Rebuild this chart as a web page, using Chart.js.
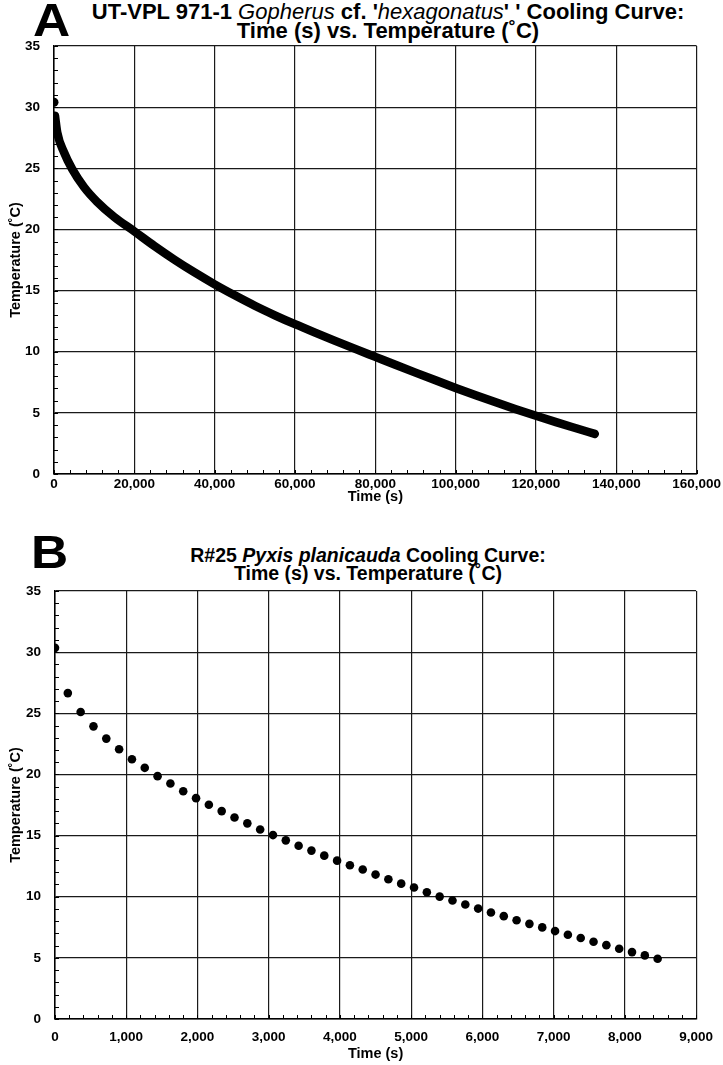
<!DOCTYPE html>
<html>
<head>
<meta charset="utf-8">
<script src="https://cdn.jsdelivr.net/npm/chart.js@4.4.1/dist/chart.umd.min.js"></script>
<style>
  html, body { margin:0; padding:0; background:#fff; }
  body { width:723px; height:1065px; position:relative; overflow:hidden; font-family:"Liberation Sans", Arial, sans-serif; color:#000; }
  .cv { position:absolute; left:0; }
  .ttl { position:absolute; white-space:nowrap; transform:translateX(-50%); font-weight:bold; }
  .ttl i.n { font-weight:normal; }
  .big { position:absolute; font-weight:bold; font-size:46px; line-height:46px; transform-origin:left top; transform:scaleX(1.12); }
</style>
</head>
<body>
<div class="big" style="left:33px; top:-3px;">A</div>
<div class="ttl" style="left:388px; top:1px; font-size:22px; line-height:21px;">UT-VPL 971-1 <i class="n">Gopherus</i> cf. '<i class="n">hexagonatus</i>' ' Cooling Curve:</div>
<div class="ttl" style="left:388px; top:20px; font-size:22px; line-height:21px;">Time (s) vs. Temperature (˚C)</div>
<canvas id="cA" class="cv" style="top:0px;" width="723" height="510"></canvas>

<div class="big" style="left:31px; top:529px;">B</div>
<div class="ttl" style="left:368px; top:545px; font-size:19.5px; line-height:20px;">R#25 <i>Pyxis planicauda</i> Cooling Curve:</div>
<div class="ttl" style="left:368px; top:563px; font-size:19.5px; line-height:20px;">Time (s) vs. Temperature (˚C)</div>
<canvas id="cB" class="cv" style="top:520px;" width="723" height="545"></canvas>

<script>
// ---- Chart A data (UT-VPL 971-1) ----
const aTime = [0, 250, 800, 2500, 4500, 7500, 10700, 15000, 20000, 25000, 30000, 35000, 40000, 45000, 50000, 55000, 60000, 65000, 70000, 75000, 80000, 85000, 90000, 95000, 100000, 105000, 110000, 115000, 120000, 125000, 130000, 134650];
const aTemp = [30.4, 29.3, 27.95, 26.3, 24.95, 23.45, 22.27, 21.02, 19.84, 18.64, 17.52, 16.48, 15.51, 14.61, 13.76, 12.98, 12.25, 11.56, 10.89, 10.23, 9.58, 8.93, 8.29, 7.66, 7.04, 6.44, 5.86, 5.3, 4.76, 4.24, 3.74, 3.28];
const aXTicks = [0, 20000, 40000, 60000, 80000, 100000, 120000, 140000, 160000];
const aYTicks = [0, 5, 10, 15, 20, 25, 30, 35];

// ---- Chart B data (R#25 Pyxis planicauda) ----
const bTime = [0, 180, 360, 540, 720, 900, 1080, 1260, 1440, 1620, 1800, 1980, 2160, 2340, 2520, 2700, 2880, 3060, 3240, 3420, 3600, 3780, 3960, 4140, 4320, 4500, 4680, 4860, 5040, 5220, 5400, 5580, 5760, 5940, 6120, 6300, 6480, 6660, 6840, 7020, 7200, 7380, 7560, 7740, 7920, 8100, 8280, 8460];
const bTemp = [30.35, 26.65, 25.1, 23.93, 22.93, 22.06, 21.24, 20.54, 19.86, 19.26, 18.63, 18.06, 17.52, 17.0, 16.48, 16.0, 15.5, 15.04, 14.61, 14.17, 13.77, 13.36, 12.95, 12.57, 12.22, 11.81, 11.43, 11.07, 10.75, 10.37, 10.01, 9.69, 9.36, 9.03, 8.71, 8.41, 8.08, 7.78, 7.49, 7.19, 6.89, 6.62, 6.32, 6.04, 5.74, 5.47, 5.2, 4.93];
const bXTicks = [0, 1000, 2000, 3000, 4000, 5000, 6000, 7000, 8000, 9000];
const bYTicks = [0, 5, 10, 15, 20, 25, 30, 35];

const FONT = "'Liberation Sans', Arial, sans-serif";

const minorTicks = {
  id: 'minorTicks',
  afterDraw(chart, args, opts) {
    const ctx = chart.ctx, xs = chart.scales.x, ys = chart.scales.y;
    const a = chart.chartArea;
    ctx.save();
    ctx.strokeStyle = '#000';
    ctx.lineWidth = 1;
    ctx.beginPath();
    for (let v = xs.min; v <= xs.max + 1e-9; v += opts.xStep) {
      const px = Math.round(xs.getPixelForValue(v)) + 0.5;
      ctx.moveTo(px, a.bottom);
      ctx.lineTo(px, a.bottom - opts.len);
    }
    for (let v = ys.min; v <= ys.max + 1e-9; v += opts.yStep) {
      const py = Math.round(ys.getPixelForValue(v)) + 0.5;
      ctx.moveTo(a.left, py);
      ctx.lineTo(a.left + opts.len, py);
    }
    ctx.stroke();
    ctx.restore();
  }
};

function makeOpts(cfg) {
  return {
    responsive: false,
    animation: false,
    layout: { padding: { top: cfg.top, right: cfg.right, left: 0, bottom: 0 } },
    plugins: {
      legend: { display: false },
      tooltip: { enabled: false },
      minorTicks: { xStep: cfg.xMinor, yStep: 1, len: 4 }
    },
    scales: {
      x: {
        type: 'linear',
        min: cfg.xTicks[0], max: cfg.xTicks[cfg.xTicks.length - 1],
        afterBuildTicks: s => { s.ticks = cfg.xTicks.map(v => ({ value: v })); },
        afterFit: s => { s.height = cfg.xH; },
        ticks: {
          color: '#000', padding: cfg.xPad, maxRotation: 0, autoSkip: false,
          font: { family: FONT, size: 13.5, weight: 'bold' },
          callback: v => Number(v).toLocaleString('en-US')
        },
        grid: { color: '#1a1a1a', lineWidth: 1.2, drawTicks: false },
        border: { display: true, color: '#000', width: 1.5 },
        title: { display: true, text: 'Time (s)', color: '#000', font: { family: FONT, size: 14.5, weight: 'bold' }, padding: { top: 0, bottom: cfg.xTitlePad } }
      },
      y: {
        type: 'linear',
        min: 0, max: 35,
        afterBuildTicks: s => { s.ticks = cfg.yTicks.map(v => ({ value: v })); },
        afterFit: s => { s.width = cfg.yW; },
        ticks: {
          color: '#000', padding: 14,
          font: { family: FONT, size: 13.5, weight: 'bold' }
        },
        grid: { color: '#1a1a1a', lineWidth: 1.2, drawTicks: false },
        border: { display: true, color: '#000', width: 1.5 },
        title: { display: true, text: 'Temperature (˚C)', color: '#000', font: { family: FONT, size: 14.5, weight: 'bold' }, padding: { top: 7, bottom: 0 } }
      }
    }
  };
}

// Chart A
const aFirst = [{ x: aTime[0], y: aTemp[0] }];
const aCurve = aTime.slice(1).map((t, i) => ({ x: t, y: aTemp[i + 1] }));
new Chart(document.getElementById('cA'), {
  type: 'scatter',
  data: {
    datasets: [
      { data: aFirst, pointRadius: 4.5, pointBackgroundColor: '#000', pointBorderWidth: 0, showLine: false },
      { data: aCurve, showLine: true, borderColor: '#000', borderWidth: 8.5, borderCapStyle: 'round', borderJoinStyle: 'round', cubicInterpolationMode: 'monotone', pointRadius: 0 }
    ]
  },
  options: makeOpts({ top: 46, right: 24, xTicks: aXTicks, yTicks: aYTicks, xMinor: 4000, xH: 36, xPad: 2, xTitlePad: 4, yW: 54 }),
  plugins: [minorTicks]
});

// Chart B
const bPts = bTime.map((t, i) => ({ x: t, y: bTemp[i] }));
new Chart(document.getElementById('cB'), {
  type: 'scatter',
  data: {
    datasets: [
      { data: bPts, pointRadius: 4.3, pointBackgroundColor: '#000', pointBorderWidth: 0, showLine: false }
    ]
  },
  options: makeOpts({ top: 71, right: 23, xTicks: bXTicks, yTicks: bYTicks, xMinor: 200, xH: 46, xPad: 10, xTitlePad: 2, yW: 55 }),
  plugins: [minorTicks]
});
</script>
</body>
</html>
